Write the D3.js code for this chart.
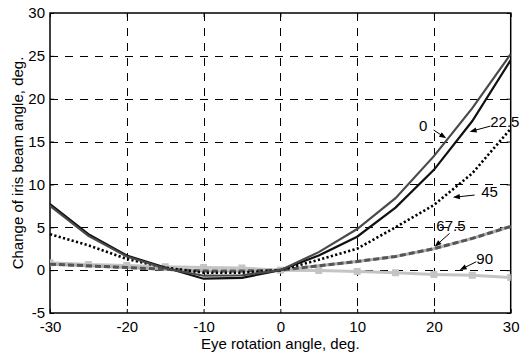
<!DOCTYPE html>
<html><head><meta charset="utf-8">
<script src="https://cdn.jsdelivr.net/npm/d3@7"></script>
<style>body{margin:0;background:#fff}svg{display:block}text{font-family:"Liberation Sans",Arial,sans-serif}</style>
</head><body>
<svg id="c" width="521" height="354"></svg>
<script>
const angles = [-30,-25,-20,-15,-10,-5,0,5,10,15,20,25,30];
const s0   = [7.5, 4.0, 1.6, 0.2, -0.65, -0.6, 0, 2.1, 4.8, 8.4, 13.3, 18.9, 25.2];
const s225 = [7.7, 4.2, 1.7, 0.3, -1.0, -0.9, 0, 1.7, 3.9, 7.3, 11.7, 17.4, 24.5];
const s45  = [4.2, 2.9, 1.3, 0.3, -0.3, -0.3, 0, 1.2, 2.5, 5.0, 7.6, 11.3, 16.5];
const s675 = [0.7, 0.5, 0.3, 0.1, -0.1, -0.1, 0, 0.5, 1.0, 1.6, 2.5, 3.7, 5.1];
const s90  = [0.85, 0.65, 0.55, 0.4, 0.3, 0.25, 0, -0.05, -0.15, -0.3, -0.5, -0.6, -0.85];
const xTicks = [-30,-20,-10,0,10,20,30];
const yTicks = [-5,0,5,10,15,20,25,30];
const xTitle = "Eye rotation angle, deg.";
const yTitle = "Change of iris beam angle, deg.";
// annotation labels: text, text anchor point, arrow start, arrow tip (data units)
const annLabels = ["0","22.5","45","67.5","90"];
const annText  = [[18.05,16.26],[27.34,16.7],[26.17,8.53],[20.31,4.62],[25.52,0.75]];
const annFrom  = [[19.96,16.35],[27.34,16.8],[25.3,8.76],[22.04,4.29],[25.52,0.98]];
const annTo    = [[21.6,15.38],[24.65,16.15],[22.47,8.49],[20.09,2.73],[23.35,0.01]];

const svg = d3.select("#c");
const L=50, T=13, R=510.7, B=313;
const x = d3.scaleLinear().domain([-30,30]).range([L,R]);
const y = d3.scaleLinear().domain([-5,30]).range([B,T]);
const fmt = d => String(d);

// grid
const grid = svg.append("g").attr("stroke","#000").attr("stroke-width",1).attr("stroke-dasharray","8,7").attr("shape-rendering","crispEdges");
grid.selectAll("line.vx").data(xTicks.slice(1,-1)).join("line")
  .attr("x1",d=>Math.round(x(d))+0.5).attr("x2",d=>Math.round(x(d))+0.5).attr("y1",T).attr("y2",B);
grid.selectAll("line.hy").data(yTicks.slice(1,-1)).join("line")
  .attr("x1",L).attr("x2",R).attr("y1",d=>Math.round(y(d))+0.5).attr("y2",d=>Math.round(y(d))+0.5);

// axes
const fs = "15px";
const ax = svg.append("g").attr("transform",`translate(0,${B})`)
  .call(d3.axisBottom(x).tickValues(xTicks).tickFormat(fmt).tickSizeInner(-4).tickSizeOuter(0).tickPadding(8));
const ay = svg.append("g").attr("transform",`translate(${L},0)`)
  .call(d3.axisLeft(y).tickValues(yTicks).tickFormat(fmt).tickSizeInner(-4).tickSizeOuter(0).tickPadding(5));
const at = svg.append("g").attr("transform",`translate(0,${T})`)
  .call(d3.axisTop(x).tickValues(xTicks).tickSizeInner(-4).tickSizeOuter(0).tickFormat(""));
const ar = svg.append("g").attr("transform",`translate(${R},0)`)
  .call(d3.axisRight(y).tickValues(yTicks).tickSizeInner(-4).tickSizeOuter(0).tickFormat(""));
[ax,ay,at,ar].forEach(g=>{
  g.select(".domain").remove();
  g.selectAll("text").attr("font-size",fs).attr("font-family","Liberation Sans, Arial, sans-serif").attr("fill","#000");
  g.selectAll("line").attr("stroke","#000");
});
svg.append("rect").attr("x",L).attr("y",T).attr("width",R-L).attr("height",B-T)
  .attr("fill","none").attr("stroke","#000").attr("stroke-width",1.5);

// clip
svg.append("clipPath").attr("id","clip").append("rect").attr("x",L).attr("y",T).attr("width",R-L).attr("height",B-T);
const plot = svg.append("g").attr("clip-path","url(#clip)");
const line = d3.line().x((d,i)=>x(angles[i])).y(d=>y(d));

plot.append("path").attr("d",line(s90)).attr("fill","none").attr("stroke","#c4c4c4").attr("stroke-width",3);
plot.selectAll("rect.m").data(s90).join("rect").attr("class","m")
  .attr("x",(d,i)=>x(angles[i])-3.5).attr("y",d=>y(d)-3.5).attr("width",7).attr("height",7).attr("fill","#c4c4c4");
plot.append("path").attr("d",line(s675)).attr("fill","none").attr("stroke","#b0b0b0").attr("stroke-width",3);
plot.append("path").attr("d",line(s675)).attr("fill","none").attr("stroke","#555").attr("stroke-width",3).attr("stroke-dasharray","6,3");
plot.append("path").attr("d",line(s45)).attr("fill","none").attr("stroke","#000").attr("stroke-width",2.6).attr("stroke-dasharray","2.2,2.3");
plot.append("path").attr("d",line(s225)).attr("fill","none").attr("stroke","#111").attr("stroke-width",2.2);
plot.append("path").attr("d",line(s0)).attr("fill","none").attr("stroke","#4a4a4a").attr("stroke-width",2.2);

// annotations
const ann = svg.append("g");
annLabels.forEach((lab,i)=>{
  const x1=x(annFrom[i][0]), y1=y(annFrom[i][1]), x2=x(annTo[i][0]), y2=y(annTo[i][1]);
  const ang=Math.atan2(y2-y1,x2-x1), len=7, w=2.6;
  ann.append("line").attr("x1",x1).attr("y1",y1).attr("x2",x2-Math.cos(ang)*len*0.8).attr("y2",y2-Math.sin(ang)*len*0.8)
    .attr("stroke","#000").attr("stroke-width",1);
  const bx=x2-Math.cos(ang)*len, by=y2-Math.sin(ang)*len;
  ann.append("path").attr("d",`M${x2},${y2}L${bx-Math.sin(ang)*w},${by+Math.cos(ang)*w}L${bx+Math.sin(ang)*w},${by-Math.cos(ang)*w}Z`).attr("fill","#000");
  ann.append("text").attr("x",x(annText[i][0])).attr("y",y(annText[i][1])).attr("font-size",fs).attr("fill","#000").text(lab);
});

// titles
svg.append("text").attr("x",(L+R)/2).attr("y",349).attr("text-anchor","middle").attr("font-size",fs).text(xTitle);
svg.append("text").attr("transform",`translate(23,${(T+B)/2}) rotate(-90)`).attr("text-anchor","middle").attr("font-size",fs).text(yTitle);
</script>
</body></html>
